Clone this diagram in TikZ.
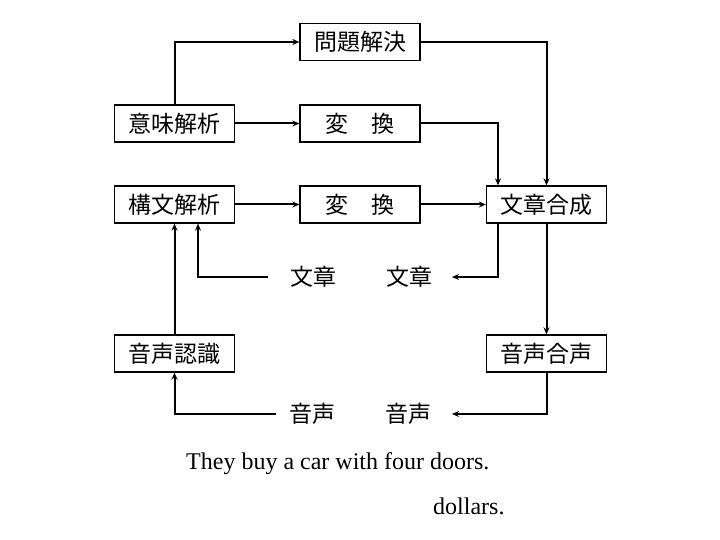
\documentclass[tikz,border=0pt]{standalone}
\usepackage{fontspec}
\setmainfont{Liberation Serif}
\newfontfamily\jp{Noto Sans CJK JP}
\usetikzlibrary{arrows.meta}
\begin{document}
\begin{tikzpicture}[x=1pt,y=-1pt,
  box/.style={draw,line width=1.3pt,minimum width=120pt,minimum height=37pt,inner sep=0pt,font=\jp\fontsize{23}{23}\selectfont},
  lbl/.style={inner sep=0pt,font=\jp\fontsize{23}{23}\selectfont},
  conn/.style={line width=2pt,-{Stealth[length=7pt,width=6pt]}},
  plain/.style={line width=2pt}]
\useasboundingbox (0,0) rectangle (720,540);
\node[box] (mondai) at (360,42) {問題解決};
\node[box] (henkanA) at (360,123.5) {変　換};
\node[box] (imi) at (174.5,123.5) {意味解析};
\node[box] (koubun) at (174.5,204.5) {構文解析};
\node[box] (henkanB) at (360,204.5) {変　換};
\node[box] (gousei) at (546.5,204.5) {文章合成};
\node[box] (ninshiki) at (174.5,353.5) {音声認識};
\node[box] (onseigousei) at (546.5,353.5) {音声合声};
\node[lbl] (bunL) at (313,277) {文章};
\node[lbl] (bunR) at (409,277) {文章};
\node[lbl] (onL) at (312,414) {音声};
\node[lbl] (onR) at (408,414) {音声};
\coordinate (bunRtip) at (452,277);
\coordinate (bunLstart) at (268,277);
\coordinate (onRtip) at (452,414);
\coordinate (onLstart) at (276,414);
\node[anchor=base west,inner sep=0pt,font=\fontsize{24}{24}\selectfont] (eng) at (186,469) {They buy a car with four doors.};
\node[anchor=base west,inner sep=0pt,font=\fontsize{24}{24}\selectfont] (dol) at (433,514) {dollars.};
\draw[conn] (imi.north) |- (mondai.west);
\draw[conn] (imi.east) -- (henkanA.west);
\draw[conn] (mondai.east) -| (gousei.north);
\draw[conn] (henkanA.east) -| ([xshift=-48.5pt]gousei.north);
\draw[conn] (koubun.east) -- (henkanB.west);
\draw[conn] (henkanB.east) -- (gousei.west);
\draw[conn] ([xshift=-48.5pt]gousei.south) |- (bunRtip);
\draw[conn] (bunLstart) -| ([xshift=23.5pt]koubun.south);
\draw[conn] (ninshiki.north) -- (koubun.south);
\draw[conn] (gousei.south) -- (onseigousei.north);
\draw[conn] (onseigousei.south) |- (onRtip);
\draw[conn] (onLstart) -| (ninshiki.south);
\end{tikzpicture}
\end{document}
